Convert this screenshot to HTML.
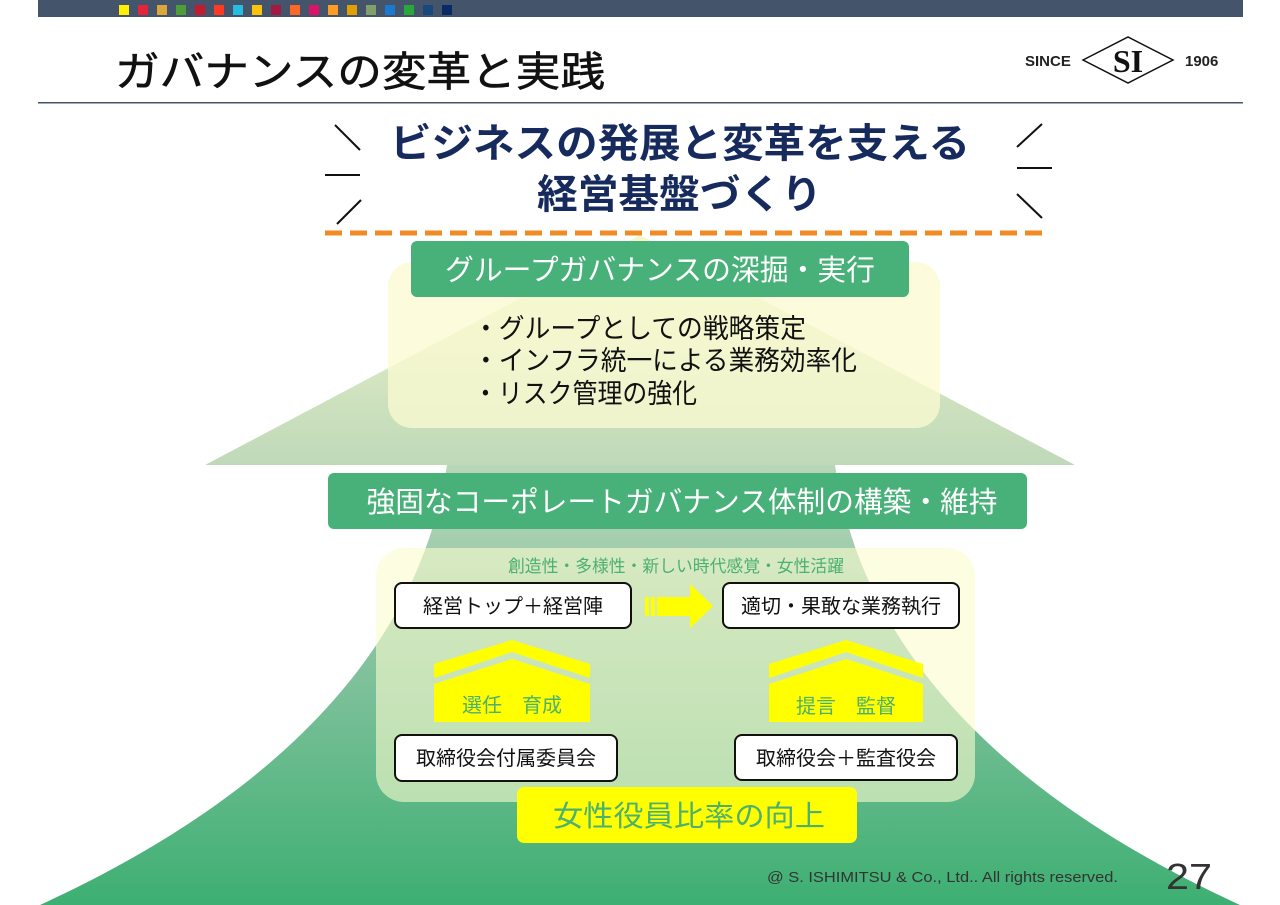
<!DOCTYPE html>
<html><head><meta charset="utf-8"><style>
html,body{margin:0;padding:0;background:#fff;}
svg{display:block;}
text{font-family:"Liberation Sans","Noto Sans CJK JP",sans-serif;}
</style></head><body>
<svg width="1280" height="905" viewBox="0 0 1280 905" xmlns="http://www.w3.org/2000/svg">
<defs>
<linearGradient id="shaft" x1="0" y1="465" x2="0" y2="905" gradientUnits="userSpaceOnUse">
<stop offset="0" stop-color="#b8d6b8"/><stop offset="0.5" stop-color="#7dc09a"/><stop offset="1" stop-color="#3daf72"/>
</linearGradient>
<linearGradient id="head" x1="0" y1="235" x2="0" y2="465" gradientUnits="userSpaceOnUse">
<stop offset="0" stop-color="#f4f6cc"/><stop offset="1" stop-color="#bfd9b9"/>
</linearGradient>
</defs>
<rect x="38" y="0" width="1205" height="17" fill="#44546a"/>
<g>
<rect x="119" y="5" width="10" height="10" fill="#ffef00"/>
<rect x="138" y="5" width="10" height="10" fill="#e5243b"/>
<rect x="157" y="5" width="10" height="10" fill="#dda63a"/>
<rect x="176" y="5" width="10" height="10" fill="#4c9f38"/>
<rect x="195" y="5" width="10" height="10" fill="#c5192d"/>
<rect x="214" y="5" width="10" height="10" fill="#ff3a21"/>
<rect x="233" y="5" width="10" height="10" fill="#26bde2"/>
<rect x="252" y="5" width="10" height="10" fill="#fcc30b"/>
<rect x="271" y="5" width="10" height="10" fill="#a21942"/>
<rect x="290" y="5" width="10" height="10" fill="#fd6925"/>
<rect x="309" y="5" width="10" height="10" fill="#dd1367"/>
<rect x="328" y="5" width="10" height="10" fill="#fd9d24"/>
<rect x="347" y="5" width="10" height="10" fill="#e0a000"/>
<rect x="366" y="5" width="10" height="10" fill="#7fa06a"/>
<rect x="385" y="5" width="10" height="10" fill="#1a7ad0"/>
<rect x="404" y="5" width="10" height="10" fill="#28a838"/>
<rect x="423" y="5" width="10" height="10" fill="#19487a"/>
<rect x="442" y="5" width="10" height="10" fill="#0a2a66"/>
</g>
<text x="115" y="86" font-size="41" fill="#111" stroke="#111" stroke-width="0.6" textLength="490" lengthAdjust="spacingAndGlyphs">ガバナンスの変革と実践</text>
<rect x="38" y="102" width="1205" height="1.5" fill="#44546a"/>
<text x="1025" y="66" font-size="15" font-weight="bold" fill="#222">SINCE</text>
<polygon points="1083,60 1128,37 1173,60 1128,83" fill="none" stroke="#111" stroke-width="1.5"/>
<text x="1128" y="72" font-size="32" font-weight="bold" fill="#111" text-anchor="middle" style="font-family:'Liberation Serif',serif">SI</text>
<text x="1185" y="66" font-size="15" font-weight="bold" fill="#222">1906</text>
<g stroke="#111" stroke-width="2">
<line x1="335" y1="125" x2="360" y2="150"/><line x1="325" y1="175" x2="360" y2="175"/><line x1="337" y1="224" x2="361" y2="200"/>
<line x1="1042" y1="124" x2="1017" y2="147"/><line x1="1017" y1="168" x2="1052" y2="168"/><line x1="1017" y1="194" x2="1042" y2="218"/>
</g>
<text x="390" y="157" font-size="40" font-weight="bold" fill="#172a5e" textLength="580" lengthAdjust="spacingAndGlyphs">ビジネスの発展と変革を支える</text>
<text x="537" y="208" font-size="40" font-weight="bold" fill="#172a5e" textLength="285" lengthAdjust="spacingAndGlyphs">経営基盤づくり</text>
<polygon points="640,235 1075,465 205,465" fill="url(#head)"/>
<path d="M447,465 L835,465 C860,640 990,790 1240,905 L40,905 C290,790 420,640 447,465 Z" fill="url(#shaft)"/>
<line x1="325" y1="233" x2="1048" y2="233" stroke="#f08a24" stroke-width="5" stroke-dasharray="17,8"/>
<rect x="388" y="262" width="552" height="166" rx="24" fill="#fbfbd2" opacity="0.75"/>
<rect x="411" y="241" width="498" height="56" rx="6" fill="#48b079"/>
<text x="660" y="280" font-size="29" fill="#fff" text-anchor="middle" textLength="430" lengthAdjust="spacingAndGlyphs">グループガバナンスの深掘・実行</text>
<text x="473" y="338" font-size="27" fill="#111" textLength="333" lengthAdjust="spacingAndGlyphs">・グループとしての戦略策定</text>
<text x="473" y="370" font-size="27" fill="#111" textLength="384" lengthAdjust="spacingAndGlyphs">・インフラ統一による業務効率化</text>
<text x="473" y="403" font-size="27" fill="#111" textLength="224" lengthAdjust="spacingAndGlyphs">・リスク管理の強化</text>
<rect x="328" y="473" width="699" height="56" rx="6" fill="#48b079"/>
<text x="682" y="512" font-size="29" fill="#fff" text-anchor="middle" textLength="631" lengthAdjust="spacingAndGlyphs">強固なコーポレートガバナンス体制の構築・維持</text>
<rect x="376" y="548" width="599" height="254" rx="28" fill="#fbfbcf" opacity="0.6"/>
<text x="676" y="572" font-size="17" fill="#4cb070" text-anchor="middle" textLength="336" lengthAdjust="spacingAndGlyphs">創造性・多様性・新しい時代感覚・女性活躍</text>
<g stroke="#111" stroke-width="2" fill="#fff">
<rect x="395" y="583" width="236" height="45" rx="7"/>
<rect x="723" y="583" width="236" height="45" rx="7"/>
<rect x="395" y="735" width="222" height="46" rx="7"/>
<rect x="735" y="735" width="222" height="45" rx="7"/>
</g>
<g font-size="20" fill="#111" text-anchor="middle">
<text x="513" y="613">経営トップ＋経営陣</text>
<text x="841" y="613">適切・果敢な業務執行</text>
<text x="506" y="765">取締役会付属委員会</text>
<text x="846" y="765">取締役会＋監査役会</text>
</g>
<rect x="645" y="597" width="4" height="19" fill="#ffff00"/>
<rect x="651" y="597" width="4" height="19" fill="#ffff00"/>
<rect x="657" y="597" width="34" height="19" fill="#ffff00"/>
<polygon points="690,584 713,606 690,628" fill="#ffff00"/>
<g fill="#ffff00">
<polygon points="434,664 512,640 590,664 590,678 512,652 434,678"/>
<polygon points="434,684 512,659 590,684 590,722 434,722"/>
<polygon points="769,664 846,640 923,664 923,678 846,652 769,678"/>
<polygon points="769,684 846,659 923,684 923,722 769,722"/>
</g>
<text x="512" y="712" font-size="20" fill="#4cb070" text-anchor="middle">選任　育成</text>
<text x="846" y="713" font-size="20" fill="#4cb070" text-anchor="middle">提言　監督</text>
<rect x="517" y="787" width="340" height="56" rx="7" fill="#ffff00"/>
<text x="689" y="826" font-size="29" fill="#4cb070" text-anchor="middle" textLength="272" lengthAdjust="spacingAndGlyphs">女性役員比率の向上</text>
<text x="767" y="882" font-size="15" fill="#333" textLength="351" lengthAdjust="spacingAndGlyphs">@ S. ISHIMITSU &amp; Co., Ltd.. All rights reserved.</text>
<text x="1166" y="889" font-size="36" fill="#333" textLength="46" lengthAdjust="spacingAndGlyphs">27</text>
</svg>
</body></html>
